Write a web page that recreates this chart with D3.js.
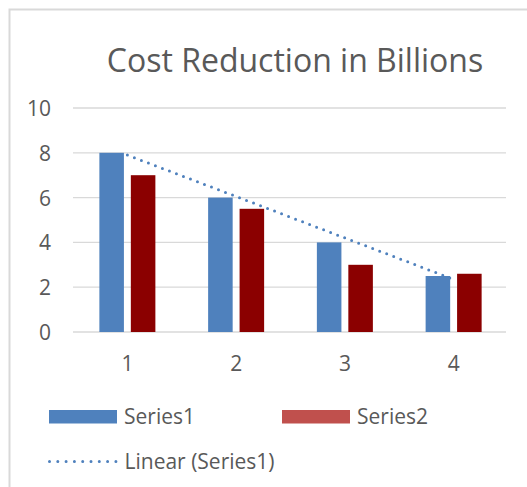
<!DOCTYPE html>
<html>
<head>
<meta charset="utf-8">
<script src="https://cdn.jsdelivr.net/npm/d3@7"></script>
<style>
  body { margin: 0; background: #fff; }
  text { font-family: "Open Sans", sans-serif; fill: #595959; }
</style>
</head>
<body>
<svg id="chart"></svg>
<script>
const categories = ["1", "2", "3", "4"];
const seriesNames = ["Series1", "Series2"];
const series1 = [8, 6, 4, 2.5];
const series2 = [7, 5.5, 3, 2.6];
const yTicks = [0, 2, 4, 6, 8, 10];
const title = "Cost Reduction in Billions";
const trendName = "Linear (Series1)";

const width = 527, height = 487;
const barColors = { Series1: "#4f81bd", Series2: "#8b0000" };
const legendColors = { Series1: "#4f81bd", Series2: "#c0504d" };
const labelSize = "21px";

const svg = d3.select("#chart").attr("width", width).attr("height", height);

// chart frame (only top and left edges fall inside the picture)
svg.append("rect")
  .attr("x", 9.5).attr("y", 9.5)
  .attr("width", width + 20).attr("height", height + 20)
  .attr("fill", "none").attr("stroke", "#d9d9d9").attr("stroke-width", 2);

svg.append("text")
  .attr("x", 295).attr("y", 72)
  .attr("text-anchor", "middle")
  .style("font-size", "32px")
  .text(title);

const x0 = d3.scaleBand().domain(categories).range([73, 508]);
const x1 = d3.scaleBand().domain(seriesNames)
  .range([x0.bandwidth() / 2 - 28, x0.bandwidth() / 2 + 28])
  .paddingInner(0.22);
const y = d3.scaleLinear().domain([0, 10]).range([332, 108]);

// gridlines
svg.append("g")
  .selectAll("line")
  .data(yTicks)
  .join("line")
  .attr("x1", 73).attr("x2", 506)
  .attr("y1", d => y(d)).attr("y2", d => y(d))
  .attr("stroke", "#d9d9d9").attr("stroke-width", 1.3);

// y axis labels
const yAxis = svg.append("g")
  .attr("transform", "translate(51,0)")
  .call(d3.axisLeft(y).tickValues(yTicks).tickSize(0).tickPadding(0));
yAxis.select(".domain").remove();
yAxis.selectAll("text").style("font-size", labelSize).attr("fill", "#595959").attr("dy", "0.36em");

// x axis labels
const xAxis = svg.append("g")
  .attr("transform", "translate(0,356)")
  .call(d3.axisBottom(x0).tickSize(0).tickPadding(0));
xAxis.select(".domain").remove();
xAxis.selectAll("text").style("font-size", labelSize).attr("fill", "#595959");

// bars
const rows = categories.map((c, i) => ({ cat: c, Series1: series1[i], Series2: series2[i] }));
svg.append("g")
  .selectAll("g")
  .data(rows)
  .join("g")
  .attr("transform", d => `translate(${x0(d.cat)},0)`)
  .selectAll("rect")
  .data(d => seriesNames.map(s => ({ s, v: d[s] })))
  .join("rect")
  .attr("x", d => x1(d.s))
  .attr("width", x1.bandwidth())
  .attr("y", d => y(d.v))
  .attr("height", d => y(0) - y(d.v))
  .attr("fill", d => barColors[d.s]);

// linear trendline of Series1 (least squares)
const xs = categories.map((c, i) => i + 1);
const mx = d3.mean(xs), my = d3.mean(series1);
const slope = d3.sum(xs, (xv, i) => (xv - mx) * (series1[i] - my)) / d3.sum(xs, xv => (xv - mx) ** 2);
const icpt = my - slope * mx;
const cx = c => x0(c) + x0.bandwidth() / 2;
const trend = [categories[0], categories[categories.length - 1]]
  .map(c => [cx(c), y(icpt + slope * (categories.indexOf(c) + 1))]);
svg.append("path")
  .attr("d", d3.line()(trend))
  .attr("fill", "none").attr("stroke", "#4f81bd")
  .attr("stroke-width", 3).attr("stroke-linecap", "round")
  .attr("stroke-dasharray", "0 7.5");

// legend
const leg = svg.append("g");
const legItems = [
  { name: "Series1", x: 49, y: 410 },
  { name: "Series2", x: 282, y: 410 }
];
leg.selectAll("rect")
  .data(legItems)
  .join("rect")
  .attr("x", d => d.x).attr("y", d => d.y)
  .attr("width", 68).attr("height", 13.5)
  .attr("fill", d => legendColors[d.name]);
leg.selectAll("text.s")
  .data(legItems)
  .join("text")
  .attr("class", "s")
  .attr("x", d => d.x + 75).attr("y", 424)
  .style("font-size", labelSize)
  .text(d => d.name);
leg.append("path")
  .attr("d", d3.line()([[49.5, 461.5], [116, 461.5]]))
  .attr("fill", "none").attr("stroke", "#4f81bd")
  .attr("stroke-width", 3).attr("stroke-linecap", "round")
  .attr("stroke-dasharray", "0 8.3");
leg.append("text")
  .attr("x", 124.5).attr("y", 469)
  .style("font-size", labelSize)
  .text(trendName);
</script>
</body>
</html>
